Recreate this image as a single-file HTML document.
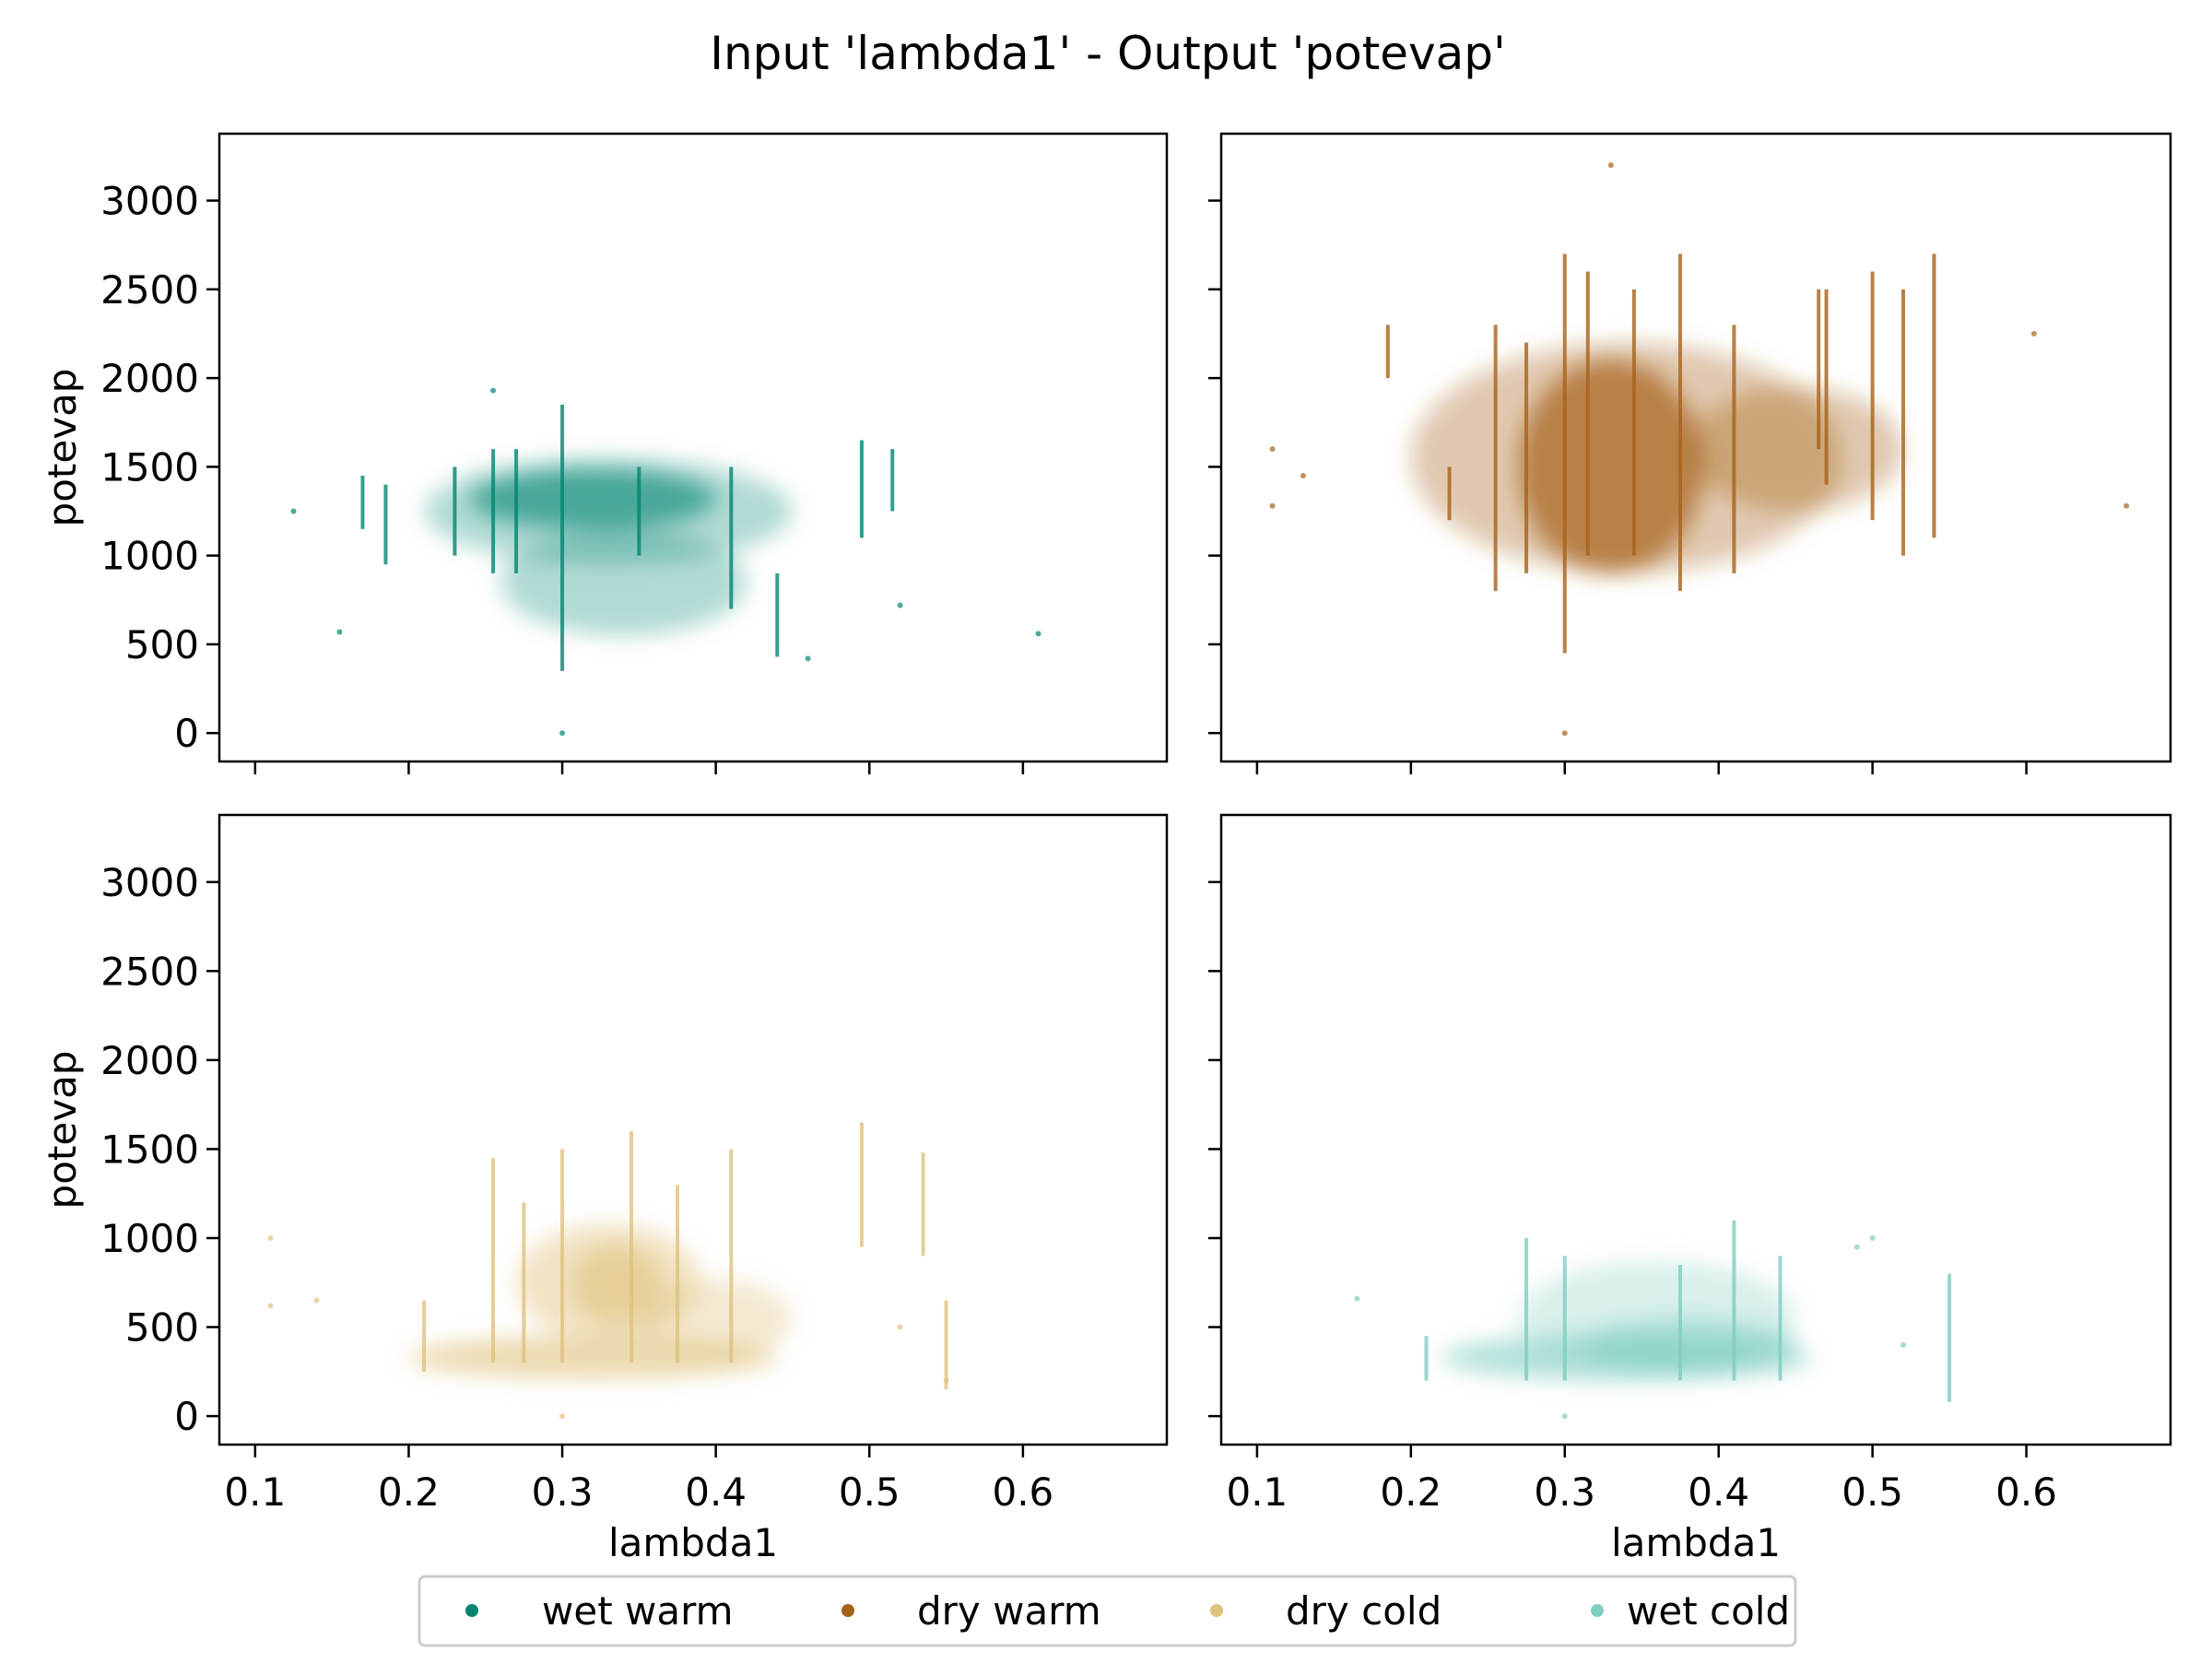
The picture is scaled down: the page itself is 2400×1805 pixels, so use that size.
<!DOCTYPE html>
<html><head><meta charset="utf-8"><style>
html,body{margin:0;padding:0;background:#fff;}
svg text{font-family:"DejaVu Sans","Liberation Sans",sans-serif;fill:#000;}
</style></head><body>
<svg id="chart" width="2400" height="1800" viewBox="0 0 2400 1800" xmlns="http://www.w3.org/2000/svg">
<defs><filter id="blur" x="-30%" y="-30%" width="160%" height="160%"><feGaussianBlur stdDeviation="12"/></filter></defs>
<text x="1202" y="75" font-size="50" text-anchor="middle">Input 'lambda1' - Output 'potevap'</text>
<g id="panels"></g>
<g>
<rect x="455" y="1710" width="1493" height="75" rx="6" fill="#fff" stroke="#ccc" stroke-width="3"/>
<circle cx="512" cy="1747" r="7" fill="#018571"/>
<text x="588" y="1762" font-size="42">wet warm</text>
<circle cx="920" cy="1747" r="7" fill="#a6611a"/>
<text x="995" y="1762" font-size="42">dry warm</text>
<circle cx="1320" cy="1747" r="7" fill="#dfc27d"/>
<text x="1395" y="1762" font-size="42">dry cold</text>
<circle cx="1733" cy="1747" r="7" fill="#80cdc1"/>
<text x="1765" y="1762" font-size="42">wet cold</text>
</g>
</svg>
<script>
const xTicks=[0.1,0.2,0.3,0.4,0.5,0.6];
const yTicks=[0,500,1000,1500,2000,2500,3000];
const groups=['wet warm','dry warm','dry cold','wet cold'];
const colors=['#018571','#a6611a','#dfc27d','#80cdc1'];
// clouds: [cx, cy, rx (lambda), ry (potevap), opacity]
const cloudsWW=[[0.33,1250,0.12,300,0.3],[0.32,1320,0.08,170,0.6],[0.34,850,0.08,300,0.3]];
const cloudsDW=[[0.34,1550,0.14,650,0.35],[0.33,1500,0.06,600,0.7],[0.45,1600,0.07,350,0.35]];
const cloudsDC=[[0.33,750,0.06,330,0.45],[0.335,740,0.03,220,0.6],[0.32,330,0.12,120,0.6],[0.4,550,0.05,220,0.35]];
const cloudsWC=[[0.34,330,0.12,130,0.6],[0.36,550,0.09,320,0.3],[0.38,400,0.07,150,0.5]];
// streaks: x, ymin, ymax
const streakWWx=[0.3,0.23,0.255,0.17,0.185,0.41,0.495,0.515,0.44,0.27,0.35];
const streakWWlo=[350,1000,900,1150,950,700,1100,1250,430,900,1000];
const streakWWhi=[1850,1500,1600,1450,1400,1500,1650,1600,900,1600,1500];
const streakDWx=[0.3,0.255,0.275,0.315,0.345,0.375,0.41,0.47,0.5,0.52,0.54,0.465,0.185,0.225];
const streakDWlo=[450,800,900,1000,1000,800,900,1400,1200,1000,1100,1600,2000,1200];
const streakDWhi=[2700,2300,2200,2600,2500,2700,2300,2500,2600,2500,2700,2500,2300,1500];
const streakDCx=[0.3,0.255,0.275,0.345,0.41,0.375,0.495,0.535,0.55,0.21];
const streakDClo=[300,300,300,300,300,300,950,900,150,250];
const streakDChi=[1500,1450,1200,1600,1500,1300,1650,1480,650,650];
const streakWCx=[0.275,0.3,0.41,0.55,0.375,0.44,0.21];
const streakWClo=[200,200,200,80,200,200,200];
const streakWChi=[1000,900,1100,800,850,900,450];
// outlier points: x, y
const ptsWWx=[0.125,0.61,0.3,0.52,0.155,0.255,0.46];
const ptsWWy=[1250,560,0,720,570,1930,420];
const ptsDWx=[0.11,0.605,0.665,0.3,0.33,0.11,0.13];
const ptsDWy=[1600,2250,1280,0,3200,1280,1450];
const ptsDCx=[0.11,0.3,0.11,0.14,0.52,0.55];
const ptsDCy=[620,0,1000,650,500,200];
const ptsWCx=[0.165,0.3,0.5,0.49,0.52];
const ptsWCy=[660,0,1000,950,400];

const clouds=[cloudsWW,cloudsDW,cloudsDC,cloudsWC];
const sx=[streakWWx,streakDWx,streakDCx,streakWCx];
const slo=[streakWWlo,streakDWlo,streakDClo,streakWClo];
const shi=[streakWWhi,streakDWhi,streakDChi,streakWChi];
const px=[ptsWWx,ptsDWx,ptsDCx,ptsWCx];
const py=[ptsWWy,ptsDWy,ptsDCy,ptsWCy];

const NS='http://www.w3.org/2000/svg';
const root=document.getElementById('panels');
const boxes=[[238,145,1266,826],[1325,145,2355,826],[238,884,1266,1567],[1325,884,2355,1567]];
const xmin=0.0767,xmax=0.6937,ymin=-160,ymax=3377;
function mk(t,a,p){const e=document.createElementNS(NS,t);for(const k in a)e.setAttribute(k,a[k]);(p||root).appendChild(e);return e;}
boxes.forEach((b,i)=>{
  const [L,T,R,B]=b;
  const X=v=>L+(v-xmin)/(xmax-xmin)*(R-L);
  const Y=v=>B-(v-ymin)/(ymax-ymin)*(B-T);
  const g=mk('g',{});
  
  
  const col=colors[i];
  const cg=mk('g',{filter:'url(#blur)'},g);
  clouds[i].forEach(c=>{
    const e=mk('ellipse',{cx:X(c[0]),cy:Y(c[1]),rx:X(c[0]+c[2])-X(c[0]),ry:Y(c[1])-Y(c[1]+c[3]),fill:col,'fill-opacity':c[4]},cg);
    
    
  });
  sx[i].forEach((x,j)=>{
    const r=mk('rect',{x:X(x)-2,y:Y(shi[i][j]),width:4,height:Y(slo[i][j])-Y(shi[i][j]),fill:col,'fill-opacity':0.8},g);
    
    
  });
  px[i].forEach((x,j)=>{
    const c=mk('circle',{cx:X(x),cy:Y(py[i][j]),r:3,fill:col,'fill-opacity':0.7},g);
    
    
  });
  const fr=mk('rect',{x:L,y:T,width:R-L,height:B-T,fill:'none',stroke:'#000','stroke-width':2.5},g);
  
  
  xTicks.forEach(t=>{
    const l=mk('line',{x1:X(t),x2:X(t),y1:B,y2:B+14,stroke:'#000','stroke-width':2.5},g);
    
    
    if(i>=2){const tx=mk('text',{x:X(t),y:B+66,'font-size':42,'text-anchor':'middle'},g);tx.textContent=t.toFixed(1);
      
      }
  });
  yTicks.forEach(t=>{
    const l=mk('line',{x1:L-14,x2:L,y1:Y(t),y2:Y(t),stroke:'#000','stroke-width':2.5},g);
    
    
    if(i%2==0){const tx=mk('text',{x:L-22,y:Y(t)+15,'font-size':42,'text-anchor':'end'},g);tx.textContent=t;
      
      }
  });
  if(i%2==0){const yl=mk('text',{x:0,y:0,'font-size':42,'text-anchor':'middle',transform:`translate(${L-156},${(T+B)/2}) rotate(-90)`},g);yl.textContent='potevap';
    
    }
  if(i>=2){const xl=mk('text',{x:(L+R)/2,y:B+121,'font-size':42,'text-anchor':'middle'},g);xl.textContent='lambda1';
    
    }
});
</script>
</body></html>
